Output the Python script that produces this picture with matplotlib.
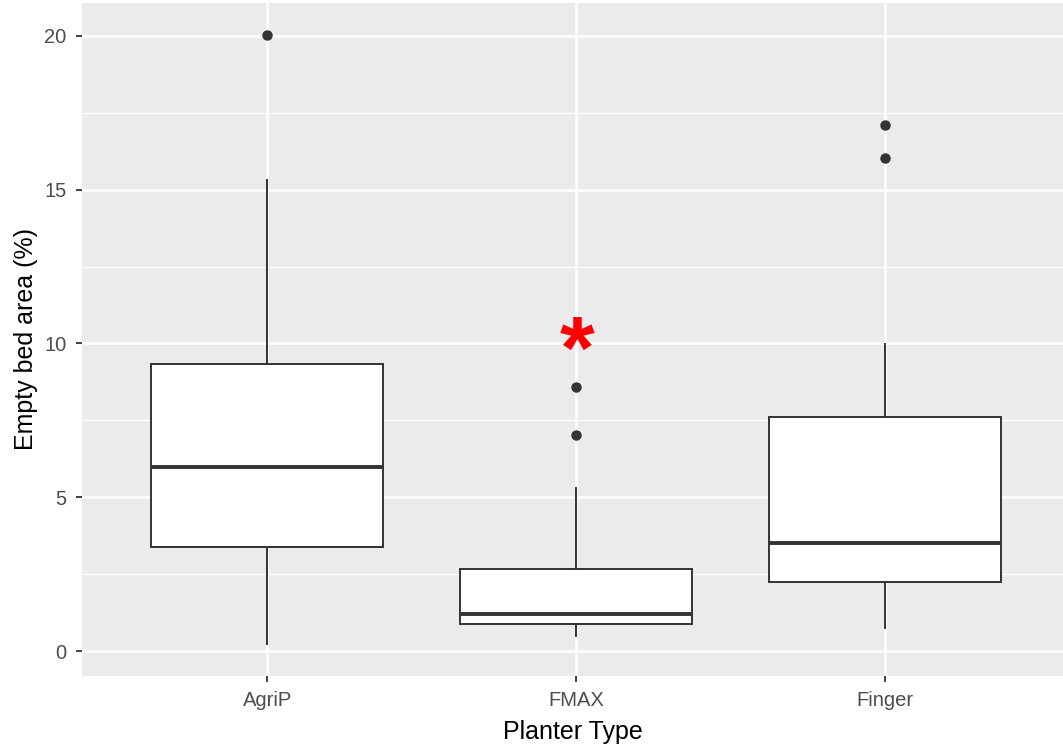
import matplotlib.pyplot as plt
import matplotlib.transforms as mtransforms
from matplotlib.ticker import MultipleLocator

plt.rcParams['font.family'] = ['Liberation Sans', 'DejaVu Sans']

planters = ['AgriP', 'FMAX', 'Finger']
whisker_low = [0.23, 0.49, 0.75]
q1 = [3.38, 0.88, 2.24]
median = [5.98, 1.20, 3.51]
q3 = [9.33, 2.67, 7.61]
whisker_high = [15.32, 5.30, 9.98]
outliers = [[20.03], [7.02, 8.59], [16.03, 17.1]]

star_group = 'FMAX'
star_y = 10.2

stats = []
for i, name in enumerate(planters):
    stats.append({'label': name, 'whislo': whisker_low[i], 'q1': q1[i],
                  'med': median[i], 'q3': q3[i], 'whishi': whisker_high[i],
                  'fliers': outliers[i]})

fig = plt.figure(figsize=(10.63, 7.47), dpi=100)
ax = fig.add_axes([82 / 1063, 71 / 747, 981 / 1063, 673 / 747])
ax.set_facecolor('#EBEBEB')

pos = list(range(1, len(planters) + 1))
ax.bxp(stats, positions=pos, widths=0.75, patch_artist=True,
       showcaps=False, zorder=3,
       boxprops=dict(facecolor='white', edgecolor='#333333', linewidth=1.4),
       whiskerprops=dict(color='#333333', linewidth=1.4),
       medianprops=dict(color='#333333', linewidth=2.8),
       flierprops=dict(marker='o', markerfacecolor='#333333',
                       markeredgecolor='#333333', markersize=6.5))

# the asterisk glyph sits high in its box, nudge it down
shift = mtransforms.offset_copy(ax.transData, fig=fig, x=1, y=-17, units='dots')
ax.text(planters.index(star_group) + 1, star_y, '*', color='red',
        fontsize=64, fontweight='bold', ha='center', va='center', zorder=4,
        transform=shift)

ax.set_xlim(0.4, 3.577)
ax.set_ylim(-0.81, 21.07)
ax.yaxis.set_major_locator(MultipleLocator(5))
ax.yaxis.set_minor_locator(MultipleLocator(2.5))
ax.set_xticks(pos)
ax.set_xticklabels(planters)
ax.grid(which='major', color='white', linewidth=1.8, zorder=0)
ax.grid(which='minor', axis='y', color='white', linewidth=0.9, zorder=0)
ax.set_axisbelow(True)
for s in ax.spines.values():
    s.set_visible(False)
ax.tick_params(which='major', length=4, width=1.3, color='#333333',
               labelcolor='#4D4D4D', labelsize=14.5, pad=7)
ax.tick_params(which='minor', length=0)

ax.set_xlabel('Planter Type', fontsize=18, color='black', labelpad=7)
ax.set_ylabel('Empty bed area (%)', fontsize=18, color='black', labelpad=5)

fig.savefig('out.png', dpi=100)
